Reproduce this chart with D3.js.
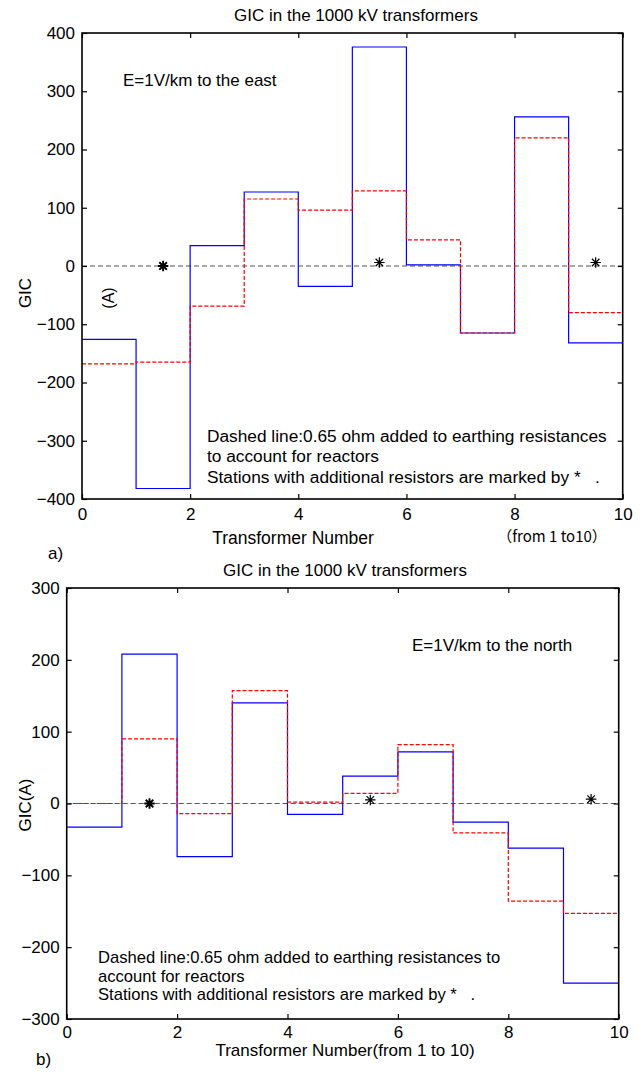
<!DOCTYPE html>
<html>
<head>
<meta charset="utf-8">
<title>GIC in the 1000 kV transformers</title>
<script src="https://d3js.org/d3.v7.min.js"></script>
<style>
body { margin: 0; background: #fff; }
text { font-family: "Liberation Sans", Arial, sans-serif; fill: #000; }
.pre { white-space: pre; }
</style>
</head>
<body>
<div id="chart"></div>
<script>
// transformer index (step start positions)
var transformers = [0, 1, 2, 3, 4, 5, 6, 7, 8, 9];

// panel a) E = 1 V/km to the east
var eastSolid  = [-126, -382, 35, 127, -35, 376, 2, -115, 256, -132];
var eastDashed = [-168, -165, -69, 115, 96, 129, 45, -115, 220, -80];
var eastStarX  = [1.5, 5.5, 9.5];
var eastStarY  = [0, 6, 6];
var eastYTicks = [-400, -300, -200, -100, 0, 100, 200, 300, 400];

// panel b) E = 1 V/km to the north
var northSolid  = [-33, 208, -74, 140, -15, 38, 72, -26, -62, -250];
var northDashed = [0, 90, -14, 157, 2, 14, 82, -41, -136, -153];
var northStarX  = [1.5, 5.5, 9.5];
var northStarY  = [0, 5, 6];
var northYTicks = [-300, -200, -100, 0, 100, 200, 300];

var xTicks = [0, 2, 4, 6, 8, 10];

var svg = d3.select("#chart").append("svg")
  .attr("width", 643)
  .attr("height", 1079);

// matlab style '*' marker: plus and cross on top of each other
var star = {
  draw: function(ctx, size) {
    var r = Math.sqrt(size) / 2, d = r * 0.72;
    ctx.moveTo(-r, 0); ctx.lineTo(r, 0);
    ctx.moveTo(0, -r); ctx.lineTo(0, r);
    ctx.moveTo(-d, -d); ctx.lineTo(d, d);
    ctx.moveTo(-d, d); ctx.lineTo(d, -d);
  }
};

function steps(vals) {
  var pts = transformers.map(function(t, i) { return [t, vals[i]]; });
  pts.push([10, vals[vals.length - 1]]);
  return pts;
}

function panel(o) {
  var x = d3.scaleLinear().domain([0, 10]).range([o.left, o.right]);
  var y = d3.scaleLinear().domain(o.ydom).range([o.bottom, o.top]);
  var g = svg.append("g");

  g.append("text")
    .attr("x", o.titleX).attr("y", o.top - 12)
    .attr("text-anchor", "middle")
    .style("font-size", "17px")
    .text("GIC in the 1000 kV transformers");

  // zero reference line
  g.append("line")
    .attr("x1", x(0)).attr("x2", x(10))
    .attr("y1", y(0)).attr("y2", y(0))
    .attr("stroke", "#555").attr("stroke-width", 1.2)
    .attr("stroke-dasharray", "5,3");

  var line = d3.line()
    .x(function(d) { return x(d[0]); })
    .y(function(d) { return y(d[1]); })
    .curve(d3.curveStepAfter);

  g.append("path")
    .attr("d", line(steps(o.solid)))
    .attr("fill", "none").attr("stroke", "#0000ff").attr("stroke-width", 1.2);

  g.append("path")
    .attr("d", line(steps(o.dashed)))
    .attr("fill", "none").attr("stroke", "#ff0000").attr("stroke-width", 1.2)
    .attr("stroke-dasharray", "4,2");

  g.selectAll(".star")
    .data(o.starX)
    .enter().append("path")
      .attr("transform", function(d, i) { return "translate(" + x(d) + "," + y(o.starY[i]) + ")"; })
      .attr("d", d3.symbol().type(star).size(110))
      .attr("fill", "none").attr("stroke", "#000")
      .attr("stroke-width", function(d, i) { return i == 0 ? 1.9 : 1.2; });

  // axes, ticks pointing inward like matlab
  g.append("g")
    .attr("transform", "translate(" + o.left + ",0)")
    .call(d3.axisLeft(y).tickValues(o.yticks).tickSize(-5).tickPadding(7));
  g.append("g")
    .attr("transform", "translate(0," + o.bottom + ")")
    .call(d3.axisBottom(x).tickValues(xTicks).tickSize(-5).tickPadding(o.xPad));
  g.append("g")
    .attr("transform", "translate(" + o.right + ",0)")
    .call(d3.axisRight(y).tickValues(o.yticks).tickSize(-5).tickFormat(""));
  g.append("g")
    .attr("transform", "translate(0," + o.top + ")")
    .call(d3.axisTop(x).tickValues(xTicks).tickSize(-5).tickFormat(""));

  g.selectAll(".domain").remove();
  g.selectAll(".tick line").attr("stroke", "#000").attr("stroke-width", 1.2);
  g.selectAll(".tick text")
    .style("font-size", "17px")
    .style("font-family", "'Liberation Sans', Arial, sans-serif");

  g.append("rect")
    .attr("x", o.left).attr("y", o.top)
    .attr("width", o.right - o.left).attr("height", o.bottom - o.top)
    .attr("fill", "none").attr("stroke", "#000").attr("stroke-width", 1.6);

  g.append("text")
    .attr("x", o.fieldX).attr("y", o.fieldY)
    .style("font-size", "17px")
    .text(o.field);

  g.selectAll(".note")
    .data(o.notes)
    .enter().append("text")
      .attr("class", "pre")
      .attr("x", o.noteX)
      .attr("y", function(d, i) { return o.noteY + i * o.noteGap; })
      .style("font-size", o.noteSize)
      .text(function(d) { return d; });

  return {x: x, y: y, g: g};
}

// ---- a) ----
var a = panel({
  left: 82, right: 622.7, top: 33, bottom: 499,
  ydom: [-400, 400], yticks: eastYTicks, titleX: 356, xPad: 9,
  solid: eastSolid, dashed: eastDashed, starX: eastStarX, starY: eastStarY,
  field: "E=1V/km to the east", fieldX: 123, fieldY: 86,
  notes: ["Dashed line:0.65 ohm added to earthing resistances",
          "to account for reactors",
          "Stations with additional resistors are marked by *   ."],
  noteX: 207, noteY: 442, noteGap: 20.3, noteSize: "17.3px"
});

a.g.append("text")
  .attr("transform", "translate(31,293)rotate(-90)")
  .attr("text-anchor", "middle")
  .style("font-size", "17px")
  .text("GIC");
a.g.append("text")
  .attr("transform", "translate(114,298)rotate(-90)")
  .attr("text-anchor", "middle")
  .style("font-size", "16px")
  .text("(A)");
a.g.append("text")
  .attr("x", 293).attr("y", 544)
  .attr("text-anchor", "middle")
  .style("font-size", "17.5px")
  .text("Transformer Number");
a.g.append("text")
  .attr("x", 552).attr("y", 542)
  .attr("text-anchor", "middle")
  .style("font-size", "15px")
  .style("font-family", "'Noto Sans CJK SC', 'Liberation Sans', sans-serif")
  .text("\uff08from 1 to10\uff09");
a.g.append("text")
  .attr("x", 48).attr("y", 559)
  .style("font-size", "17px")
  .text("a)");

// ---- b) ----
var b = panel({
  left: 66.7, right: 618.7, top: 588, bottom: 1019,
  ydom: [-300, 300], yticks: northYTicks, titleX: 345, xPad: 7,
  solid: northSolid, dashed: northDashed, starX: northStarX, starY: northStarY,
  field: "E=1V/km to the north", fieldX: 412, fieldY: 651,
  notes: ["Dashed line:0.65 ohm added to earthing resistances to",
          "account for reactors",
          "Stations with additional resistors are marked by *   ."],
  noteX: 98, noteY: 963, noteGap: 18.7, noteSize: "16.6px"
});

b.g.append("text")
  .attr("transform", "translate(31,805)rotate(-90)")
  .attr("text-anchor", "middle")
  .style("font-size", "17px")
  .text("GIC(A)");
b.g.append("text")
  .attr("x", 345).attr("y", 1056)
  .attr("text-anchor", "middle")
  .style("font-size", "17px")
  .text("Transformer Number(from 1 to 10)");
b.g.append("text")
  .attr("x", 36).attr("y", 1065)
  .style("font-size", "17px")
  .text("b)");
</script>
</body>
</html>
